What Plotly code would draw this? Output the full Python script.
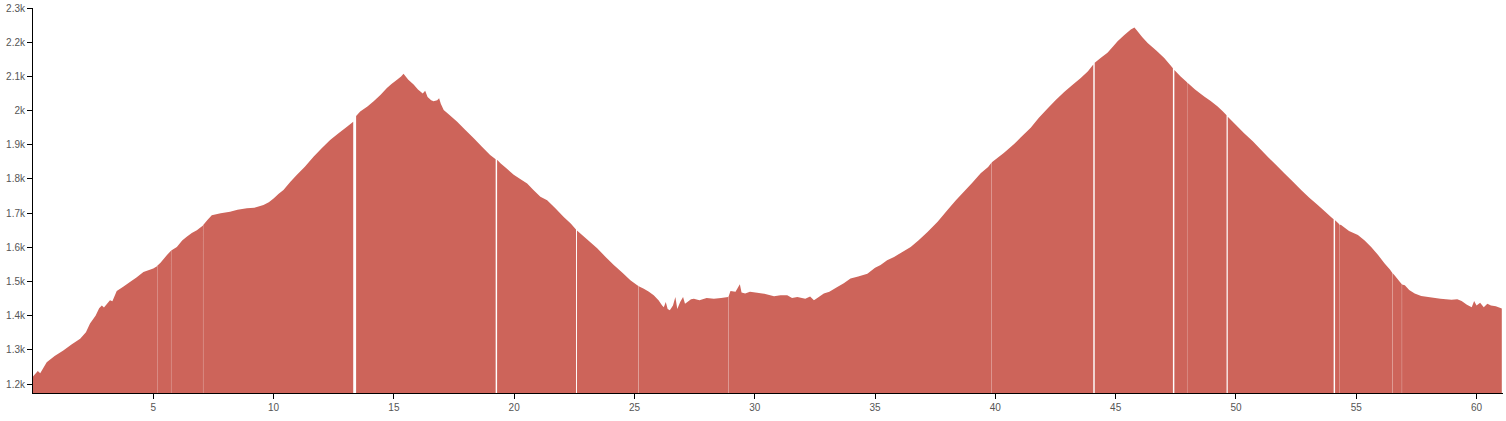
import plotly.graph_objects as go

# Distance along route (km) and elevation (m); None in elev marks a break in the profile
km = [
    0.0, 0.2, 0.3, 0.57, 0.9, 1.26, 1.6, 1.96, 2.2, 2.37, 2.6, 2.75, 2.86, 2.95, 3.2, 3.3, 3.48, 3.75,
    4.03, 4.3, 4.59, 5.0, 5.155, 5.16, 5.165, 5.3, 5.56, 5.735, 5.74, 5.745, 5.98, 6.2, 6.39, 6.6, 6.81,
    7.065, 7.07, 7.075, 7.25, 7.43, 7.8, 8.19, 8.5, 8.89, 9.2, 9.58, 9.8, 10.0, 10.2, 10.41, 10.7, 10.97,
    11.3, 11.66, 12.0, 12.35, 12.7, 13.05, 13.31, 13.37, 13.43, 13.6, 13.9, 14.16, 14.45, 14.71, 14.9,
    15.13, 15.3, 15.4, 15.6, 15.82, 16.0, 16.1, 16.2, 16.3, 16.4, 16.55, 16.65, 16.8, 16.88, 16.95,
    17.07, 17.3, 17.62, 17.95, 18.32, 18.65, 19.0, 19.23, 19.26, 19.29, 19.43, 19.7, 19.98, 20.25,
    20.54, 20.8, 21.09, 21.37, 21.7, 22.06, 22.35, 22.57, 22.59, 22.61, 23.0, 23.45, 23.8, 24.14, 24.5,
    24.83, 25.1, 25.165, 25.17, 25.175, 25.39, 25.6, 25.8, 26.0, 26.1, 26.15, 26.22, 26.3, 26.38, 26.47,
    26.6, 26.7, 26.78, 26.9, 27.02, 27.1, 27.2, 27.35, 27.47, 27.7, 28.0, 28.3, 28.6, 28.895, 28.9,
    28.905, 28.99, 29.2, 29.38, 29.45, 29.6, 29.8, 30.1, 30.4, 30.8, 31.07, 31.35, 31.55, 31.77, 32.1,
    32.3, 32.46, 32.6, 32.87, 33.1, 33.43, 33.7, 33.98, 34.3, 34.68, 35.0, 35.23, 35.5, 35.79, 36.1,
    36.48, 36.8, 37.18, 37.6, 38.01, 38.35, 38.7, 39.05, 39.39, 39.7, 39.845, 39.85, 39.855, 40.35,
    40.78, 41.05, 41.33, 41.47, 41.8, 42.17, 42.5, 42.86, 43.2, 43.55, 43.85, 44.07, 44.1, 44.13, 44.4,
    44.66, 44.9, 45.08, 45.35, 45.63, 45.78, 45.91, 46.1, 46.33, 46.7, 47.02, 47.25, 47.38, 47.41,
    47.44, 47.7, 47.965, 47.97, 47.975, 48.3, 48.68, 48.95, 49.24, 49.45, 49.61, 49.63, 49.66, 50.0,
    50.34, 50.7, 51.0, 51.32, 51.65, 52.01, 52.35, 52.71, 53.05, 53.4, 53.7, 53.95, 54.06, 54.09,
    54.12, 54.285, 54.29, 54.295, 54.37, 54.7, 55.07, 55.35, 55.62, 55.9, 56.18, 56.4, 56.495, 56.5,
    56.505, 56.6, 56.8, 56.895, 56.9, 56.905, 57.02, 57.2, 57.43, 57.7, 57.99, 58.5, 58.96, 59.2, 59.38,
    59.6, 59.8, 59.9, 60.0, 60.15, 60.3, 60.45, 60.6, 60.8, 61.05,
]
elev = [
    1222, 1238, 1232, 1264, 1282, 1298, 1316, 1333, 1352, 1377, 1400, 1422, 1430, 1424, 1445, 1442, 1472, 1485,
    1499, 1512, 1528, 1538, 1545, None, 1546, 1555, 1577, 1590, None, 1591, 1601, 1620, 1631, 1642, 1650,
    1664, None, 1665, 1680, 1694, 1700, 1704, 1710, 1714, 1716, 1724, 1732, 1743, 1756, 1768, 1792, 1812,
    1836, 1865, 1890, 1914, 1934, 1953, 1967, None, 1984, 1997, 2012, 2027, 2046, 2066, 2078,
    2090, 2100, 2108, 2090, 2076, 2062, 2056, 2050, 2058, 2040, 2030, 2027, 2030, 2036, 2020,
    2002, 1988, 1968, 1945, 1919, 1895, 1870, 1858, None, 1856, 1846, 1830, 1812, 1800,
    1787, 1768, 1748, 1738, 1715, 1689, 1670, 1652, None, 1649, 1625, 1597, 1572, 1548, 1526,
    1504, 1490, 1487, None, 1486, 1479, 1470, 1460, 1445, 1435, 1430, 1425, 1440, 1420, 1416,
    1430, 1455, 1420, 1440, 1455, 1435, 1440, 1448, 1450, 1445, 1452, 1450, 1452, 1455, None,
    1455, 1472, 1470, 1492, 1468, 1465, 1470, 1467, 1464, 1457, 1460, 1460, 1452, 1455, 1450,
    1456, 1445, 1452, 1465, 1470, 1484, 1495, 1509, 1515, 1523, 1540, 1548, 1562, 1572, 1585,
    1601, 1620, 1645, 1675, 1709, 1737, 1763, 1790, 1817, 1835, 1848, None, 1849, 1876,
    1902, 1921, 1940, 1950, 1978, 2006, 2030, 2054, 2075, 2095, 2115, 2135, None, 2140, 2155,
    2169, 2188, 2203, 2220, 2237, 2243, 2232, 2215, 2198, 2175, 2154, 2135, 2124, None,
    2119, 2100, 2083, None, 2082, 2062, 2041, 2028, 2012, 1998, 1986, None, 1982, 1958,
    1934, 1910, 1888, 1865, 1842, 1817, 1793, 1768, 1745, 1724, 1705, 1689, 1682, None,
    1679, 1668, None, 1667, 1665, 1648, 1636, 1620, 1601, 1578, 1553, 1535, 1526, None,
    1525, 1518, 1500, 1492, None, 1491, 1489, 1475, 1465, 1458, 1455, 1450, 1447, 1448, 1443,
    1432, 1425, 1443, 1430, 1438, 1425, 1435, 1430, 1428, 1421,
]

x_ticks = [5, 10, 15, 20, 25, 30, 35, 40, 45, 50, 55, 60]
y_ticks = [1200, 1300, 1400, 1500, 1600, 1700, 1800, 1900, 2000, 2100, 2200, 2300]

FILL = "#CD645A"

# split the profile into continuous segments at the breaks
segments = []
cur_x, cur_y = [], []
for xv, yv in zip(km, elev):
    if yv is None:
        if cur_x:
            segments.append((cur_x, cur_y))
        cur_x, cur_y = [], []
    else:
        cur_x.append(xv)
        cur_y.append(yv)
if cur_x:
    segments.append((cur_x, cur_y))

fig = go.Figure()
for sx, sy in segments:
    fig.add_trace(go.Scatter(
        x=sx, y=sy, mode="none", fill="tozeroy", fillcolor=FILL,
        showlegend=False, hoverinfo="x+y",
    ))

axis_font = dict(family="Liberation Sans, Arial, sans-serif", size=10, color="#555555")
fig.update_layout(
    width=1506, height=421,
    margin=dict(l=33, r=3, t=8, b=28),
    paper_bgcolor="white", plot_bgcolor="white",
    showlegend=False,
)
fig.update_xaxes(
    range=[0, 61.1], tickvals=x_ticks, showgrid=False, zeroline=False,
    showline=True, linecolor="black", linewidth=1, automargin=False,
    ticks="outside", ticklen=5, tickcolor="black", tickfont=axis_font,
)
fig.update_yaxes(
    range=[1174, 2300], tickvals=y_ticks, tickformat="~s", showgrid=False, zeroline=False,
    showline=True, linecolor="black", linewidth=1, automargin=False,
    ticks="outside", ticklen=5, tickcolor="black", tickfont=axis_font,
)

fig.write_html(
    "out.html",
    config={"displayModeBar": False},
    post_script="document.body.style.margin='0';",
)
